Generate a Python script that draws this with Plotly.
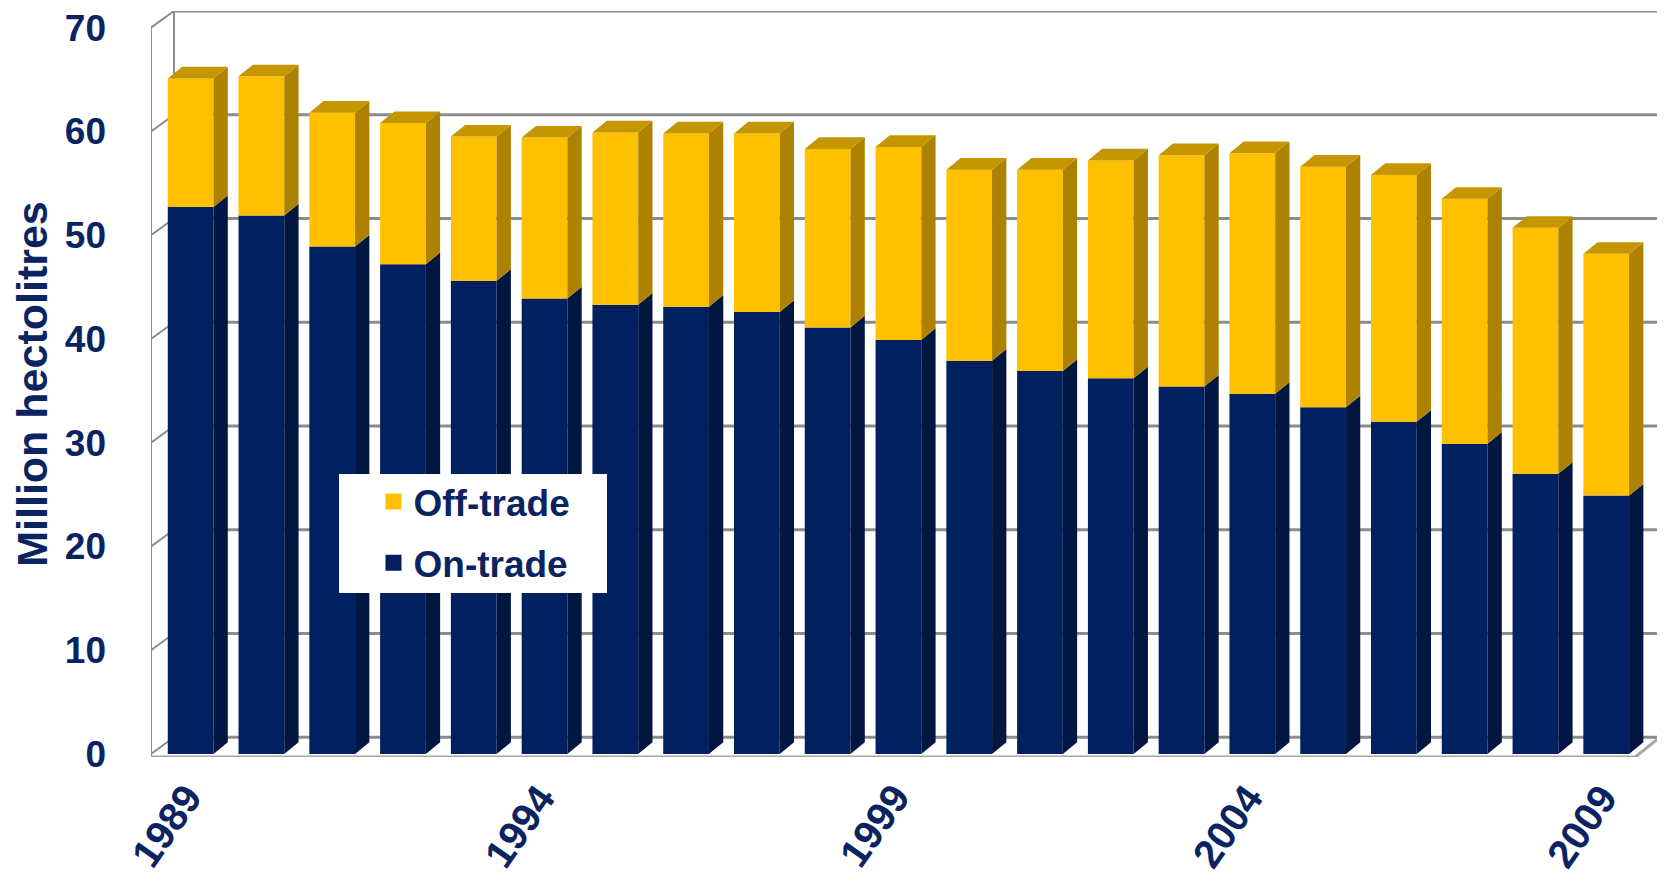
import plotly.graph_objects as go

years = list(range(1989, 2010))
on_trade = [52.7, 51.9, 48.9, 47.2, 45.6, 43.9, 43.3, 43.1, 42.6, 41.1, 39.9,
            37.9, 36.9, 36.2, 35.4, 34.7, 33.4, 32.0, 29.9, 27.0, 24.9]
off_trade = [12.4, 13.4, 12.9, 13.6, 13.9, 15.5, 16.6, 16.7, 17.2, 17.2, 18.6,
             18.4, 19.4, 21.0, 22.3, 23.2, 23.2, 23.8, 23.6, 23.7, 23.3]
y_ticks = [0, 10, 20, 30, 40, 50, 60, 70]
year_labels = [1989, 1994, 1999, 2004, 2009]

NAVY = "#012060"
NAVY_SIDE = "#011641"
GOLD = "#FFC000"
GOLD_SIDE = "#AD8200"
GOLD_TOP = "#C69600"
TXT = "#0B2361"
GRID = "#8C8C8C"
FONT = "Liberation Sans, Arial"

HW = 0.323    # half bar width (years)
DX = 0.202    # bar depth in x
DY = 1.12     # bar depth in y
WDX = 0.325   # wall depth x
WDY = 1.6     # wall depth y
X0 = 1988.44
XMAX = 2009.76
Y0 = -0.3
YMAX = 71.6

# plot-area geometry (figure pixels)
ML, MR, MT, MB = 143, 13, 3, 132
PW = 1665 - ML - MR
PH = 881 - MT - MB


def px_to_paper_x(px):
    return (px - ML) / PW


def px_to_paper_y(py):
    return (MT + PH - py) / PH


fig = go.Figure()

fig.add_trace(go.Bar(x=years, y=on_trade, name="On-trade", width=2 * HW, showlegend=False,
                     marker=dict(color=NAVY, line=dict(width=0))))
fig.add_trace(go.Bar(x=years, y=off_trade, base=on_trade, name="Off-trade", showlegend=False,
                     width=2 * HW, marker=dict(color=GOLD, line=dict(width=0))))


def side_poly(bottoms, tops):
    xs, ys = [], []
    for x, b, t in zip(years, bottoms, tops):
        xr = x + HW
        xs += [xr, xr + DX, xr + DX, xr, xr, None]
        ys += [b, b + DY, t + DY, t, b, None]
    return xs, ys


def top_poly(tops):
    xs, ys = [], []
    for x, t in zip(years, tops):
        xs += [x - HW, x + HW, x + HW + DX, x - HW + DX, x - HW, None]
        ys += [t, t, t + DY, t + DY, t, None]
    return xs, ys


totals = [a + b for a, b in zip(on_trade, off_trade)]
sx, sy = side_poly([0] * len(years), on_trade)
fig.add_trace(go.Scatter(x=sx, y=sy, fill="toself", fillcolor=NAVY_SIDE, mode="lines",
                         line=dict(width=0), showlegend=False, hoverinfo="skip"))
sx, sy = side_poly(on_trade, totals)
fig.add_trace(go.Scatter(x=sx, y=sy, fill="toself", fillcolor=GOLD_SIDE, mode="lines",
                         line=dict(width=0), showlegend=False, hoverinfo="skip"))
tx, ty = top_poly(totals)
fig.add_trace(go.Scatter(x=tx, y=ty, fill="toself", fillcolor=GOLD_TOP, mode="lines",
                         line=dict(width=0), showlegend=False, hoverinfo="skip"))

# legend entries (square swatches)
fig.add_trace(go.Scatter(x=[None], y=[None], mode="markers", name="<b>Off-trade</b>",
                         marker=dict(symbol="square", size=16, color=GOLD), legendgroup="a"))
fig.add_trace(go.Scatter(x=[None], y=[None], mode="markers", name="<b>On-trade</b>",
                         marker=dict(symbol="square", size=16, color=NAVY), legendgroup="b"))

shapes = []
for v in y_ticks:
    shapes.append(dict(type="line", xref="x", yref="y", x0=X0 + WDX, x1=XMAX,
                       y0=v + WDY, y1=v + WDY, line=dict(color=GRID, width=3), layer="below"))
    shapes.append(dict(type="line", xref="x", yref="y", x0=X0, x1=X0 + WDX,
                       y0=v, y1=v + WDY, line=dict(color=GRID, width=2), layer="below"))
shapes.append(dict(type="line", xref="x", yref="y", x0=X0, x1=X0, y0=Y0, y1=70,
                   line=dict(color=GRID, width=2), layer="below"))
shapes.append(dict(type="line", xref="x", yref="y", x0=X0 + WDX, x1=X0 + WDX, y0=WDY,
                   y1=70 + WDY, line=dict(color=GRID, width=2), layer="below"))
shapes.append(dict(type="line", xref="x", yref="y", x0=X0, x1=2009.41, y0=Y0, y1=Y0,
                   line=dict(color="#A6A6A6", width=3), layer="below"))
shapes.append(dict(type="line", xref="x", yref="y", x0=2009.41, x1=2009.76, y0=Y0, y1=1.6,
                   line=dict(color="#A6A6A6", width=3), layer="below"))
# legend background box
shapes.append(dict(type="rect", xref="paper", yref="paper",
                   x0=px_to_paper_x(331), x1=px_to_paper_x(599),
                   y0=px_to_paper_y(585), y1=px_to_paper_y(466),
                   fillcolor="white", line=dict(width=0), layer="above"))

annotations = []
for yr in year_labels:
    annotations.append(dict(x=yr + 0.31, y=0, xref="x", yref="y", text=f"<b>{yr}</b>",
                            showarrow=False, xanchor="right", yanchor="top", yshift=-20,
                            textangle=-55,
                            font=dict(family=FONT, size=40, color=TXT)))

fig.update_layout(
    width=1665, height=881,
    margin=dict(l=ML, r=MR, t=MT, b=MB, autoexpand=False),
    paper_bgcolor="white", plot_bgcolor="white",
    barmode="overlay",
    showlegend=True,
    legend=dict(x=px_to_paper_x(365.5), y=px_to_paper_y(463), xanchor="left", yanchor="top",
                bgcolor="rgba(0,0,0,0)", tracegroupgap=10,
                font=dict(family=FONT, size=37, color=TXT)),
    shapes=shapes,
    annotations=annotations,
    font=dict(family=FONT, color=TXT),
)
fig.update_xaxes(range=[X0, XMAX], showgrid=False, zeroline=False, showline=False,
                 showticklabels=False, ticks="", automargin=False)
fig.update_yaxes(range=[Y0, YMAX], tickvals=y_ticks, ticktext=[f"<b>{v}</b>" for v in y_ticks],
                 showgrid=False, zeroline=False, automargin=False,
                 showline=False, ticks="", ticklabelstandoff=44, ticklabeloverflow="allow",
                 tickfont=dict(family=FONT, size=37, color=TXT),
                 title=dict(text="<b>Million hectolitres</b>", standoff=6,
                            font=dict(family=FONT, size=43, color=TXT)))

fig.write_html("out.html")
